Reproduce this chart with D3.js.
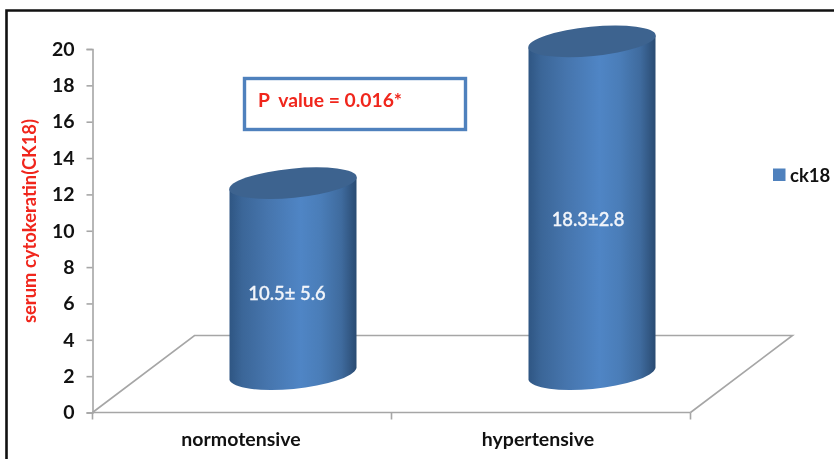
<!DOCTYPE html>
<html lang="en">
<head>
  <meta charset="UTF-8">
  <title>Serum cytokeratin (CK18)</title>
  <script src="https://d3js.org/d3.v7.min.js"></script>
  <style>
    html, body { margin: 0; padding: 0; background: #fff; }
    svg { display: block; filter: blur(0.35px); }
    text { font-family: Lato, "Open Sans", sans-serif; }
    .axis path, .axis line { stroke: #a6a6a6; stroke-width: 1.6px; fill: none; }
    .axis text { font-size: 19.5px; font-weight: 700; fill: #111; }
    .floor { fill: none; stroke: #a6a6a6; stroke-width: 1.6px; }
  </style>
</head>
<body>
<svg width="834" height="459"></svg>
<script>
const categories = ["normotensive", "hypertensive"];
const values = [10.5, 18.3];
const valueLabels = ["10.5\u00b1 5.6", "18.3\u00b12.8"];
const yTicks = [0, 2, 4, 6, 8, 10, 12, 14, 16, 18, 20];
const seriesName = "ck18";
const yTitle = "serum cytokeratin(CK18)";
const pValueText = "P  value = 0.016*";

const svg = d3.select("svg");
const plot = { left: 92.5, right: 690.5, top: 49, bottom: 412.5 };
const depth = { x: 102, y: 77 }; // floor slant

const x = d3.scaleBand().domain(categories).range([plot.left, plot.right]);
const y = d3.scaleLinear().domain([0, 20]).range([plot.bottom, plot.top]);

// scanned page frame
svg.append("path")
  .attr("d", "M6.5,459V10.5H834")
  .attr("fill", "none")
  .attr("stroke", "#111")
  .attr("stroke-width", 2.6);

// floor of the 3d plot
svg.append("path")
  .attr("class", "floor")
  .attr("d", d3.line()([
    [plot.left, plot.bottom],
    [plot.left + depth.x, plot.bottom - depth.y],
    [plot.right + depth.x, plot.bottom - depth.y],
    [plot.right, plot.bottom]
  ]));

// axes
const yAxis = svg.append("g")
  .attr("class", "axis")
  .attr("transform", `translate(${plot.left},0)`)
  .call(d3.axisLeft(y).tickValues(yTicks).tickSize(6).tickPadding(12).tickSizeOuter(6));

const xAxis = svg.append("g")
  .attr("class", "axis")
  .attr("transform", `translate(0,${plot.bottom})`)
  .call(d3.axisBottom(x).tickSize(0).tickPadding(20));
xAxis.select(".domain").attr("d", `M${plot.left},0H${plot.right}`);
xAxis.selectAll(".tick text").attr("dx", (d, i) => [-1, -3][i]);

xAxis.selectAll("line.edge")
  .data([plot.left, x(categories[1]), plot.right])
  .join("line")
  .attr("class", "edge")
  .attr("x1", d => d).attr("x2", d => d)
  .attr("y1", 0).attr("y2", 7);

// cylinder shading
const defs = svg.append("defs");
const grad = defs.append("linearGradient").attr("id", "body");
[[0, "#2f5683"], [0.1, "#3b6698"], [0.3, "#4675ad"], [0.56, "#4f85c5"], [0.72, "#4a7db8"],
 [0.88, "#3f6b9e"], [1, "#2a4b72"]]
  .forEach(s => grad.append("stop").attr("offset", s[0]).attr("stop-color", s[1]));

// tilted ellipse caps
const rx = 64, ry = 14.6, tilt = -5.6;
const hx = 63.5, hy = 6;

const bars = svg.append("g").selectAll("g")
  .data(categories.map((c, i) => ({ c, v: values[i], label: valueLabels[i] })))
  .join("g")
  .attr("transform", d => `translate(${x(d.c) + x.bandwidth() / 2 + depth.x / 2},0)`);

const baseY = y(0) - depth.y / 2;

bars.append("path")
  .attr("fill", "url(#body)")
  .attr("d", d => {
    const top = y(d.v) - depth.y / 2;
    return `M${-hx},${top + hy}L${hx},${top - hy}L${hx},${baseY - hy}` +
      `A${rx},${ry + 1.6} ${tilt} 0 1 ${-hx},${baseY + hy}Z`;
  });

bars.append("ellipse")
  .attr("rx", rx)
  .attr("ry", ry)
  .attr("fill", "#3d638f")
  .attr("transform", d => `translate(0,${y(d.v) - depth.y / 2}) rotate(${tilt})`);

bars.append("text")
  .attr("x", (d, i) => [-6, -4][i])
  .attr("y", (d, i) => [300, 226][i])
  .attr("text-anchor", "middle")
  .attr("font-size", 18.4)
  .attr("font-weight", 500)
  .attr("fill", "#f2f5fa")
  .attr("stroke", "#f2f5fa")
  .attr("stroke-width", 0.35)
  .text(d => d.label);

// y title
svg.append("text")
  .attr("transform", "translate(36,221) rotate(-90)")
  .attr("text-anchor", "middle")
  .attr("font-size", 18.4)
  .attr("font-weight", 700)
  .attr("fill", "#f0261c")
  .text(yTitle);

// p value box
svg.append("rect")
  .attr("x", 244.5).attr("y", 78.5)
  .attr("width", 221).attr("height", 51)
  .attr("fill", "#fff")
  .attr("stroke", "#4f81bd")
  .attr("stroke-width", 3.4);

svg.append("text")
  .attr("x", 258).attr("y", 107)
  .attr("font-size", 19.3)
  .attr("font-weight", 700)
  .attr("fill", "#f0261c")
  .style("white-space", "pre")
  .text(pValueText);

// legend
svg.append("rect")
  .attr("x", 773).attr("y", 168.5)
  .attr("width", 12.5).attr("height", 12.5)
  .attr("fill", "#4f81bd");

svg.append("text")
  .attr("x", 790).attr("y", 181.5)
  .attr("font-size", 18.5)
  .attr("font-weight", 700)
  .attr("fill", "#111")
  .text(seriesName);
</script>
</body>
</html>
